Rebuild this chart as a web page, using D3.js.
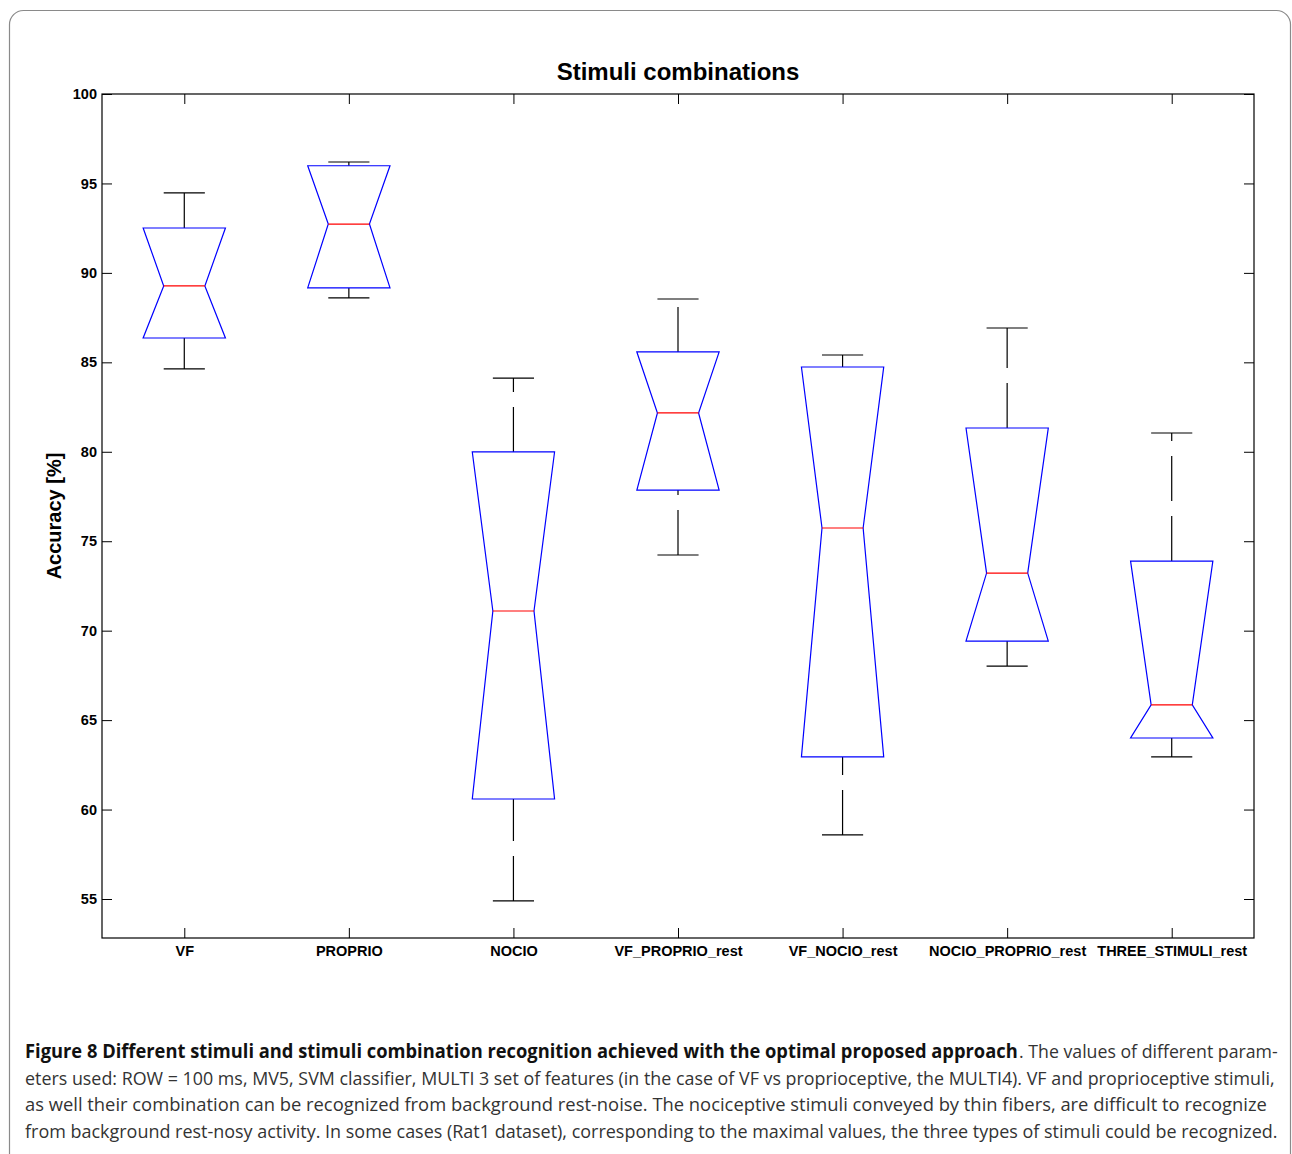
<!DOCTYPE html>
<html>
<head>
<meta charset="utf-8">
<script src="https://cdn.jsdelivr.net/npm/d3@7"></script>
<style>
  html, body { margin: 0; padding: 0; background: #fff; }
  svg { display: block; }
</style>
</head>
<body>
<svg id="chart" width="1292" height="1154"></svg>
<script>
// ---- data ----
const categories = ["VF", "PROPRIO", "NOCIO", "VF_PROPRIO_rest", "VF_NOCIO_rest", "NOCIO_PROPRIO_rest", "THREE_STIMULI_rest"];
const whiskerMax = [94.47, 96.20, 84.12, 88.54, 85.41, 86.92, 81.05];
const q3Values   = [92.51, 95.99, 79.99, 85.58, 84.74, 81.33, 73.89];
const medians    = [89.27, 92.73, 71.10, 82.17, 75.74, 73.22, 65.85];
const q1Values   = [86.36, 89.16, 60.59, 77.86, 62.94, 69.42, 64.00];
const whiskerMin = [84.63, 88.60, 54.89, 74.23, 58.58, 68.02, 62.94];
const yTicks = [55, 60, 65, 70, 75, 80, 85, 90, 95, 100];
const title = "Stimuli combinations";
const yLabel = "Accuracy [%]";
const captionBold = "Figure 8 Different stimuli and stimuli combination recognition achieved with the optimal proposed approach";
const captionLines = [
  ". The values of different param-",
  "eters used: ROW = 100 ms, MV5, SVM classifier, MULTI 3 set of features (in the case of VF vs proprioceptive, the MULTI4). VF and proprioceptive stimuli,",
  "as well their combination can be recognized from background rest-noise. The nociceptive stimuli conveyed by thin fibers, are difficult to recognize",
  "from background rest-nosy activity. In some cases (Rat1 dataset), corresponding to the maximal values, the three types of stimuli could be recognized."
];

const boxes = categories.map((c, i) => ({
  name: c, idx: i + 1,
  max: whiskerMax[i], q3: q3Values[i], med: medians[i], q1: q1Values[i], min: whiskerMin[i]
}));

const svg = d3.select("#chart");
const plot = { left: 102, right: 1254, top: 94, bottom: 938 };

// frame
svg.append("rect")
  .attr("x", 9.5).attr("y", 10.5)
  .attr("width", 1281).attr("height", 1170)
  .attr("rx", 14).attr("ry", 14)
  .attr("fill", "none").attr("stroke", "#8a8a8a").attr("stroke-width", 1.2);

const x = d3.scaleLinear().domain([0.5, 7.5]).range([plot.left, plot.right]);
const y = d3.scaleLinear().domain([52.82, 100]).range([plot.bottom, plot.top]);

const fontMain = "'Liberation Sans', Arial, Helvetica, sans-serif";

// title
svg.append("text")
  .attr("x", (plot.left + plot.right) / 2).attr("y", 80)
  .attr("text-anchor", "middle")
  .attr("font-family", fontMain).attr("font-weight", "bold").attr("font-size", 24)
  .text(title);

// axes
const yAxisL = d3.axisLeft(y).tickValues(yTicks).tickSizeInner(-10).tickSizeOuter(0).tickPadding(5).tickFormat(d3.format("d"));
const yAxisR = d3.axisRight(y).tickValues(yTicks).tickSizeInner(-10).tickSizeOuter(0).tickFormat("");
const xAxisB = d3.axisBottom(x).tickValues(boxes.map(b => b.idx)).tickSizeInner(-10).tickSizeOuter(0).tickPadding(8)
  .tickFormat((d, i) => categories[i]);
const xAxisT = d3.axisTop(x).tickValues(boxes.map(b => b.idx)).tickSizeInner(-10).tickSizeOuter(0).tickFormat("");

function styleAxis(g) {
  g.select(".domain").remove();
  g.selectAll(".tick line").attr("stroke", "#000").attr("stroke-width", 1);
  g.selectAll(".tick text").attr("fill", "#000")
    .attr("font-family", fontMain).attr("font-weight", "bold");
}

svg.append("g").attr("transform", `translate(${plot.left},0)`).call(yAxisL).call(styleAxis)
  .selectAll(".tick text").attr("font-size", 14.5);
svg.append("g").attr("transform", `translate(${plot.right},0)`).call(yAxisR).call(styleAxis);
svg.append("g").attr("transform", `translate(0,${plot.bottom})`).call(xAxisB).call(styleAxis)
  .selectAll(".tick text").attr("font-size", 14.5);
svg.append("g").attr("transform", `translate(0,${plot.top})`).call(xAxisT).call(styleAxis);

// axes box
svg.append("rect")
  .attr("x", plot.left).attr("y", plot.top)
  .attr("width", plot.right - plot.left).attr("height", plot.bottom - plot.top)
  .attr("fill", "none").attr("stroke", "#000").attr("stroke-width", 1.2);

// y label
svg.append("text")
  .attr("transform", `translate(61,${(plot.top + plot.bottom) / 2}) rotate(-90)`)
  .attr("text-anchor", "middle")
  .attr("font-family", fontMain).attr("font-weight", "bold").attr("font-size", 20)
  .text(yLabel);

// boxes
const boxHalf = 0.25, notchHalf = 0.125, capHalf = 0.125;
const g = svg.append("g");
boxes.forEach(b => {
  const cx = b.idx;
  // whiskers (drawn from lower end upward, dashed)
  [[b.min, b.q1], [b.q3, b.max]].forEach(([lo, hi]) => {
    g.append("line")
      .attr("x1", x(cx)).attr("x2", x(cx))
      .attr("y1", y(lo)).attr("y2", y(hi))
      .attr("stroke", "#000").attr("stroke-width", 1.2)
      .attr("stroke-dasharray", "45,15");
  });
  // caps
  [b.min, b.max].forEach(v => {
    g.append("line")
      .attr("x1", x(cx - capHalf)).attr("x2", x(cx + capHalf))
      .attr("y1", y(v)).attr("y2", y(v))
      .attr("stroke", "#000").attr("stroke-width", 1.2);
  });
  // notched box
  const pts = [
    [x(cx - boxHalf), y(b.q3)],
    [x(cx - notchHalf), y(b.med)],
    [x(cx - boxHalf), y(b.q1)],
    [x(cx + boxHalf), y(b.q1)],
    [x(cx + notchHalf), y(b.med)],
    [x(cx + boxHalf), y(b.q3)]
  ];
  g.append("path")
    .attr("d", d3.line()(pts) + "Z")
    .attr("fill", "none").attr("stroke", "#0000ff").attr("stroke-width", 1.2);
  // median
  g.append("line")
    .attr("x1", x(cx - notchHalf)).attr("x2", x(cx + notchHalf))
    .attr("y1", y(b.med)).attr("y2", y(b.med))
    .attr("stroke", "#ff0000").attr("stroke-width", 1.2);
});

// caption: each piece scaled horizontally to fit its span (condensed look)
const capFont = "'Open Sans', 'Noto Sans', sans-serif";
function fitText(str, x0, x1, baseline, bold, fill) {
  const t = svg.append("text")
    .attr("x", 0).attr("y", 0)
    .attr("font-family", capFont).attr("font-size", 19)
    .attr("font-weight", bold ? "bold" : "normal")
    .attr("fill", fill)
    .text(str);
  const w = t.node().getComputedTextLength();
  const s = (x1 - x0) / w;
  t.attr("transform", `translate(${x0},${baseline}) scale(${s},1)`);
}
const capX = 25;
const baselines = [1058, 1085, 1111, 1138];
fitText(captionBold, capX, 1018, baselines[0], true, "#111");
fitText(captionLines[0], 1019, 1278, baselines[0], false, "#333");
const lineRight = [null, 1275, 1268, 1278];
for (let i = 1; i < captionLines.length; i++) {
  fitText(captionLines[i], capX, lineRight[i], baselines[i], false, "#333");
}
</script>
</body>
</html>
